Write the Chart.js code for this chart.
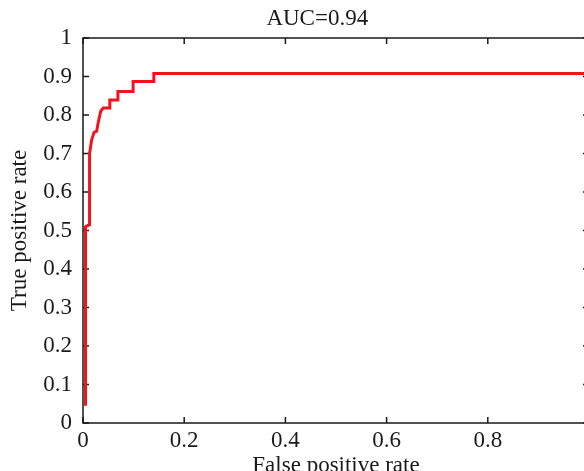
<!DOCTYPE html>
<html lang="en">
<head>
<meta charset="UTF-8">
<title>ROC curve</title>
<script src="https://cdn.jsdelivr.net/npm/chart.js"></script>
<style>
  html, body { margin: 0; padding: 0; background: #fff; overflow: hidden; }
  #wrap { position: absolute; left: 0; top: 0; width: 600px; height: 486px; }
</style>
</head>
<body>
<div id="wrap"><canvas id="roc"></canvas></div>
<script>
// ROC curve points
const fpr = [0.005, 0.005, 0.013, 0.013, 0.017, 0.022, 0.027, 0.030, 0.035, 0.040, 0.053, 0.053, 0.069, 0.069, 0.099, 0.099, 0.140, 0.140, 1.0];
const tpr = [0.045, 0.510, 0.515, 0.700, 0.735, 0.755, 0.758, 0.780, 0.810, 0.818, 0.818, 0.839, 0.839, 0.861, 0.861, 0.887, 0.887, 0.908, 0.908];
const auc = 0.94;

const xTickValues = [0, 0.2, 0.4, 0.6, 0.8, 1];
const yTickValues = [0, 0.1, 0.2, 0.3, 0.4, 0.5, 0.6, 0.7, 0.8, 0.9, 1];

const ink = '#1a1a1a';
const serif = '"Liberation Serif", "Times New Roman", serif';

// box round the plot, inward tick marks and the AUC heading
const frame = {
    id: 'frame',
    beforeDatasetsDraw(chart) {
        const { ctx, chartArea: a, scales: { x, y } } = chart;
        ctx.save();
        ctx.strokeStyle = ink;
        ctx.lineWidth = 1.5;
        ctx.strokeRect(a.left, a.top, a.right - a.left, a.bottom - a.top);
        ctx.beginPath();
        x.ticks.forEach(t => {
            const px = x.getPixelForValue(t.value);
            ctx.moveTo(px, a.bottom); ctx.lineTo(px, a.bottom - 6);
            ctx.moveTo(px, a.top); ctx.lineTo(px, a.top + 6);
        });
        y.ticks.forEach(t => {
            const py = y.getPixelForValue(t.value);
            ctx.moveTo(a.left, py); ctx.lineTo(a.left + 6, py);
            ctx.moveTo(a.right, py); ctx.lineTo(a.right - 6, py);
        });
        ctx.stroke();

        ctx.fillStyle = ink;
        ctx.font = '23px ' + serif;
        ctx.textAlign = 'center';
        ctx.textBaseline = 'middle';
        ctx.fillText('AUC=' + auc, x.getPixelForValue(0.463), 19);
        ctx.restore();
    }
};

new Chart(document.getElementById('roc'), {
    type: 'line',
    data: {
        datasets: [{
            data: fpr.map((v, i) => ({ x: v, y: tpr[i] })),
            borderColor: '#f0141e',
            borderWidth: 3,
            pointRadius: 0,
            tension: 0,
            fill: false
        }]
    },
    options: {
        responsive: true,
        maintainAspectRatio: false,
        animation: false,
        layout: { padding: { top: 38, right: 11, left: 0, bottom: 0 } },
        plugins: {
            legend: { display: false },
            title: { display: false },
            tooltip: { enabled: false }
        },
        scales: {
            x: {
                type: 'linear',
                min: 0,
                max: 1,
                grid: { display: false, drawTicks: false },
                border: { display: false },
                afterBuildTicks: s => { s.ticks = xTickValues.map(v => ({ value: v })); },
                afterFit: s => { s.height = 63; },
                ticks: {
                    color: ink,
                    font: { family: serif, size: 23 },
                    padding: 4,
                    autoSkip: false,
                    maxRotation: 0,
                    callback: v => (v === 1 ? '' : String(v))
                },
                title: {
                    display: true,
                    text: 'False positive rate',
                    color: ink,
                    font: { family: serif, size: 23 },
                    padding: { top: 0, bottom: 6 }
                }
            },
            y: {
                type: 'linear',
                min: 0,
                max: 1,
                grid: { display: false, drawTicks: false },
                border: { display: false },
                afterBuildTicks: s => { s.ticks = yTickValues.map(v => ({ value: v })); },
                afterFit: s => { s.width = 83; },
                ticks: {
                    color: ink,
                    font: { family: serif, size: 23 },
                    padding: 11,
                    autoSkip: false,
                    callback: v => String(v)
                },
                title: {
                    display: true,
                    text: 'True positive rate',
                    color: ink,
                    font: { family: serif, size: 23 },
                    padding: { top: 6, bottom: 0 }
                }
            }
        }
    },
    plugins: [frame]
});
</script>
</body>
</html>
